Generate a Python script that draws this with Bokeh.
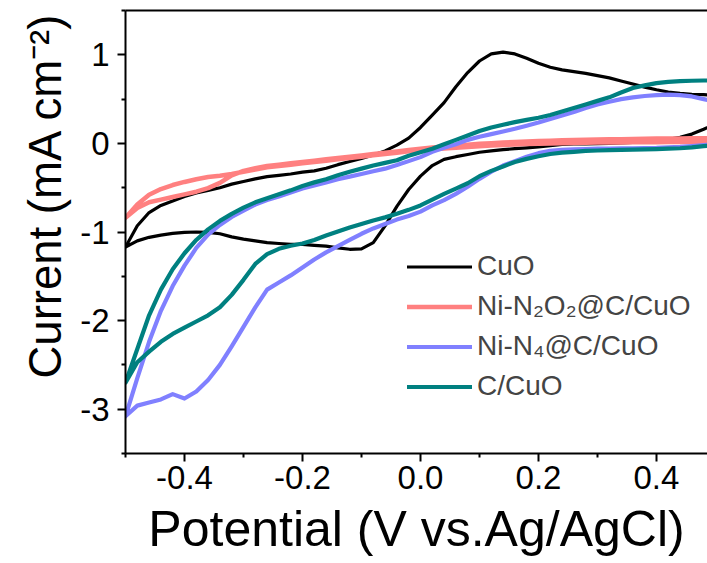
from bokeh.plotting import figure
from bokeh.models import (Range1d, FixedTicker, PrintfTickFormatter, LinearAxis,
                          Title, Legend, LegendItem)
from bokeh.embed import file_html
from bokeh.resources import INLINE

# ---------------- data ----------------
potential = [-0.50, -0.48, -0.46, -0.44, -0.42, -0.40, -0.38, -0.36, -0.34, -0.32,
             -0.30, -0.28, -0.26, -0.24, -0.22, -0.20, -0.18, -0.16, -0.14, -0.12,
             -0.10, -0.08, -0.06, -0.04, -0.02, 0.00, 0.02, 0.04, 0.06, 0.08,
             0.10, 0.12, 0.14, 0.16, 0.18, 0.20, 0.22, 0.24, 0.26, 0.28,
             0.30, 0.32, 0.34, 0.36, 0.38, 0.40, 0.42, 0.44, 0.46, 0.48, 0.50]

# forward (anodic) scans, -0.5 -> 0.5
cuo_fwd = [-1.17, -0.93, -0.78, -0.70, -0.65, -0.60, -0.56, -0.53, -0.50, -0.46,
           -0.43, -0.40, -0.375, -0.36, -0.345, -0.325, -0.31, -0.28, -0.24, -0.205,
           -0.17, -0.13, -0.085, -0.02, 0.06, 0.18, 0.32, 0.46, 0.64, 0.80,
           0.93, 1.01, 1.03, 1.01, 0.96, 0.905, 0.86, 0.83, 0.81, 0.79,
           0.765, 0.74, 0.705, 0.67, 0.635, 0.605, 0.58, 0.565, 0.555, 0.55, 0.545]
n2o2_fwd = [-0.84, -0.69, -0.58, -0.515, -0.47, -0.435, -0.405, -0.38, -0.365, -0.345,
            -0.32, -0.295, -0.27, -0.255, -0.24, -0.225, -0.21, -0.195, -0.18, -0.165,
            -0.15, -0.135, -0.12, -0.105, -0.09, -0.08, -0.068, -0.058, -0.048, -0.04,
            -0.032, -0.025, -0.018, -0.012, -0.007, -0.003, 0.0, 0.003, 0.005, 0.007,
            0.009, 0.01, 0.011, 0.012, 0.013, 0.014, 0.015, 0.016, 0.017, 0.018, 0.02]
n4_fwd = [-3.08, -2.65, -2.24, -1.89, -1.61, -1.38, -1.18, -1.03, -0.92, -0.83,
          -0.76, -0.69, -0.64, -0.60, -0.555, -0.51, -0.475, -0.44, -0.405, -0.375,
          -0.345, -0.315, -0.285, -0.245, -0.20, -0.155, -0.095, -0.05, -0.01, 0.04,
          0.075, 0.105, 0.135, 0.165, 0.20, 0.235, 0.275, 0.315, 0.355, 0.40,
          0.44, 0.47, 0.50, 0.52, 0.535, 0.545, 0.55, 0.545, 0.53, 0.50, 0.47]
ccuo_fwd = [-2.70, -2.32, -1.94, -1.65, -1.42, -1.24, -1.09, -0.97, -0.875, -0.795,
            -0.725, -0.665, -0.62, -0.575, -0.53, -0.48, -0.44, -0.405, -0.36, -0.32,
            -0.285, -0.25, -0.22, -0.19, -0.14, -0.10, -0.06, -0.01, 0.04, 0.09,
            0.14, 0.18, 0.21, 0.24, 0.265, 0.29, 0.32, 0.36, 0.40, 0.44,
            0.48, 0.52, 0.575, 0.625, 0.655, 0.68, 0.695, 0.703, 0.707, 0.71, 0.71]

# reverse (cathodic) scans, listed at the same potentials (ascending order)
cuo_rev = [-1.17, -1.10, -1.06, -1.035, -1.015, -1.005, -1.0, -1.005, -1.02, -1.055,
           -1.08, -1.10, -1.12, -1.13, -1.14, -1.14, -1.15, -1.16, -1.18, -1.195,
           -1.19, -1.12, -0.93, -0.71, -0.52, -0.37, -0.25, -0.18, -0.15, -0.125,
           -0.10, -0.085, -0.07, -0.06, -0.05, -0.04, -0.025, -0.012, -0.007, -0.005,
           -0.003, 0.0, 0.005, 0.01, 0.02, 0.03, 0.045, 0.07, 0.105, 0.16, 0.22]
n2o2_rev = [-0.84, -0.73, -0.665, -0.635, -0.605, -0.575, -0.545, -0.505, -0.445, -0.36,
            -0.31, -0.28, -0.255, -0.24, -0.225, -0.21, -0.195, -0.18, -0.165, -0.15,
            -0.135, -0.12, -0.105, -0.09, -0.075, -0.06, -0.045, -0.035, -0.025, -0.015,
            -0.005, 0.003, 0.01, 0.017, 0.022, 0.027, 0.031, 0.035, 0.038, 0.041,
            0.044, 0.046, 0.048, 0.05, 0.052, 0.054, 0.055, 0.056, 0.057, 0.058, 0.06]
n4_rev = [-3.08, -2.96, -2.925, -2.89, -2.83, -2.88, -2.80, -2.67, -2.50, -2.29,
          -2.07, -1.85, -1.65, -1.57, -1.49, -1.40, -1.31, -1.23, -1.16, -1.09,
          -1.02, -0.96, -0.91, -0.86, -0.82, -0.77, -0.70, -0.64, -0.57, -0.49,
          -0.40, -0.32, -0.25, -0.20, -0.15, -0.11, -0.085, -0.072, -0.067, -0.063,
          -0.06, -0.059, -0.057, -0.055, -0.052, -0.05, -0.045, -0.04, -0.03, -0.02, -0.01]
ccuo_rev = [-2.70, -2.47, -2.35, -2.24, -2.15, -2.08, -2.01, -1.94, -1.85, -1.71,
            -1.54, -1.36, -1.25, -1.19, -1.155, -1.13, -1.09, -1.04, -0.995, -0.95,
            -0.91, -0.87, -0.835, -0.795, -0.75, -0.70, -0.635, -0.57, -0.51, -0.45,
            -0.37, -0.31, -0.26, -0.21, -0.175, -0.145, -0.12, -0.105, -0.095, -0.085,
            -0.08, -0.077, -0.074, -0.071, -0.068, -0.065, -0.06, -0.055, -0.045, -0.03, -0.02]

series_names = ["CuO", "Ni-N\u2082O\u2082@C/CuO", "Ni-N\u2084@C/CuO", "C/CuO"]
series_colors = ["#000000", "#FF8080", "#8080FF", "#008080"]
series_widths = [3.2, 4.5, 4.2, 4.2]
fwd_list = [cuo_fwd, n2o2_fwd, n4_fwd, ccuo_fwd]
rev_list = [cuo_rev, n2o2_rev, n4_rev, ccuo_rev]

x_ticks = [-0.4, -0.2, 0.0, 0.2, 0.4]
x_minor = [-0.5, -0.3, -0.1, 0.1, 0.3, 0.5]
y_ticks = [-3, -2, -1, 0, 1]
y_minor = [-3.5, -2.5, -1.5, -0.5, 0.5, 1.5]

x_title = "Potential (V vs.Ag/AgCl)"
y_title = "Current (mA cm\u207B\u00B2)"

FONT = "Liberation Sans"

# ---------------- figure ----------------
p = figure(width=707, height=563,
           x_range=Range1d(-0.5, 0.4865), y_range=Range1d(-3.5, 1.5),
           output_backend="svg", toolbar_location=None,
           min_border_left=125, min_border_right=0,
           min_border_top=10, min_border_bottom=110)
p.outline_line_color = None
p.xgrid.visible = False
p.ygrid.visible = False
p.background_fill_color = "white"
p.border_fill_color = "white"

renderers = []
for name, col, lw, fw, rv in zip(series_names, series_colors, series_widths, fwd_list, rev_list):
    xs = potential + potential[::-1]
    ys = fw + rv[::-1]
    r = p.line(xs, ys, line_color=col, line_width=lw, line_join="round", line_cap="round")
    renderers.append(r)

# axes
for ax in (p.xaxis[0], p.yaxis[0]):
    ax.axis_line_width = 2
    ax.axis_line_color = "black"
    ax.major_tick_line_width = 2
    ax.minor_tick_line_width = 2
    ax.major_tick_out = 8
    ax.major_tick_in = 0
    ax.minor_tick_out = 4
    ax.minor_tick_in = 0
    ax.major_label_text_font = FONT
    ax.major_label_text_font_size = "33px"
    ax.major_label_text_color = "black"

p.xaxis[0].ticker = FixedTicker(ticks=x_ticks, minor_ticks=x_minor)
p.xaxis[0].formatter = PrintfTickFormatter(format="%.1f")
p.xaxis[0].major_label_standoff = 4
p.xaxis[0].axis_label = x_title
p.xaxis[0].axis_label_text_font = FONT
p.xaxis[0].axis_label_text_font_size = "50px"
p.xaxis[0].axis_label_text_font_style = "normal"
p.xaxis[0].axis_label_text_color = "black"
p.xaxis[0].axis_label_standoff = 9

p.yaxis[0].ticker = FixedTicker(ticks=y_ticks, minor_ticks=y_minor)
p.yaxis[0].formatter = PrintfTickFormatter(format="%d")
p.yaxis[0].major_label_standoff = 8

# top frame line
top = LinearAxis(ticker=FixedTicker(ticks=[]), axis_line_width=2,
                 major_tick_line_color=None, minor_tick_line_color=None,
                 major_label_text_font_size="0px")
p.add_layout(top, "above")

# y axis title
ytitle = Title(text=y_title, align="left", offset=75, standoff=14,
               text_font=FONT, text_font_size="45.5px", text_font_style="normal",
               text_color="black")
p.add_layout(ytitle, "left")

# legend
items = [LegendItem(label=n, renderers=[r]) for n, r in zip(series_names, renderers)]
legend = Legend(items=items, location=(282, 51),
                label_text_font=FONT, label_text_font_size="28px",
                glyph_width=65, glyph_height=31, label_height=31,
                label_standoff=5, spacing=8, padding=0, margin=0,
                border_line_color=None, background_fill_alpha=0)
p.add_layout(legend)

open("out.html", "w").write(file_html(p, INLINE))
